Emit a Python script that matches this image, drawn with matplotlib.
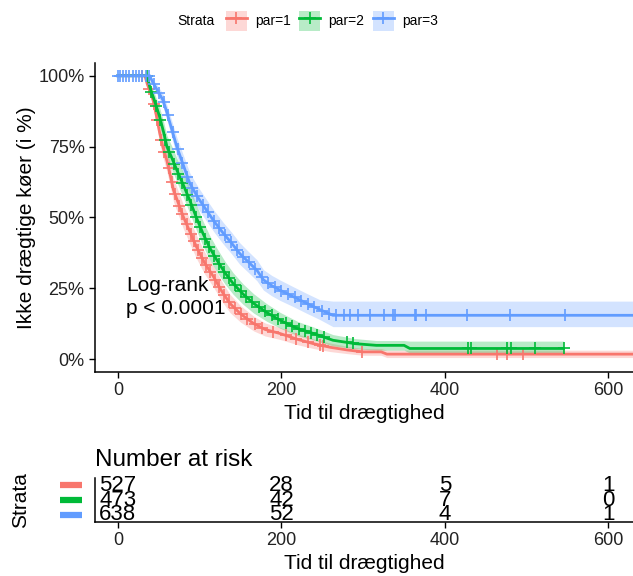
import numpy as np
import matplotlib
matplotlib.use("Agg")
import matplotlib.pyplot as plt
from matplotlib.lines import Line2D
from matplotlib.patches import Patch
import matplotlib.transforms as mtransforms

plt.rcParams['font.family'] = ['Liberation Sans', 'DejaVu Sans']

# === Kaplan-Meier estimates per stratum (time, survival, CI) ===
strata = ["par=1", "par=2", "par=3"]
colors = ["#F8766D", "#00BA38", "#619CFF"]

t_par1 = [0, 33, 36, 40, 43, 47, 51, 55, 60, 64, 68, 74, 80, 88, 96, 106, 117, 127, 137, 150,
          166, 180, 198, 220, 239, 260, 280, 300, 322, 329, 630]
s_par1 = [1.0, 1.0, 0.97, 0.94, 0.915, 0.86, 0.80, 0.75, 0.70, 0.65, 0.597, 0.55, 0.503, 0.45,
          0.397, 0.34, 0.291, 0.24, 0.197, 0.16, 0.126, 0.105, 0.091, 0.07, 0.055, 0.042, 0.033,
          0.026, 0.026, 0.018, 0.018]
lo_par1 = [1.0, 1.0, 0.955, 0.92, 0.89, 0.83, 0.765, 0.713, 0.661, 0.61, 0.556, 0.508, 0.461,
           0.408, 0.356, 0.301, 0.254, 0.205, 0.165, 0.131, 0.100, 0.082, 0.070, 0.051, 0.038,
           0.027, 0.020, 0.014, 0.014, 0.006, 0.006]
hi_par1 = [1.0, 1.0, 0.985, 0.96, 0.94, 0.89, 0.835, 0.787, 0.739, 0.69, 0.638, 0.592, 0.545,
           0.492, 0.438, 0.379, 0.328, 0.275, 0.229, 0.189, 0.152, 0.128, 0.112, 0.089, 0.072,
           0.057, 0.046, 0.038, 0.038, 0.032, 0.032]
cens_par1 = [30, 38, 44, 48, 53, 57, 62, 66, 70, 75, 79, 84, 89, 93, 98, 103, 108, 113, 119, 124,
             130, 136, 143, 150, 158, 168, 176, 190, 205, 218, 233, 247, 251, 298, 464, 476, 495]

t_par2 = [0, 36, 39, 45, 51, 56, 60, 66, 72, 80, 88, 96, 104, 112, 121, 131, 141, 153, 166, 182,
          198, 220, 239, 263, 290, 316, 350, 357, 545]
s_par2 = [1.0, 1.0, 0.96, 0.91, 0.856, 0.80, 0.75, 0.71, 0.668, 0.615, 0.56, 0.50, 0.444, 0.395,
          0.35, 0.305, 0.267, 0.23, 0.197, 0.165, 0.138, 0.108, 0.091, 0.067, 0.055, 0.049,
          0.049, 0.038, 0.038]
lo_par2 = [1.0, 1.0, 0.943, 0.884, 0.824, 0.764, 0.711, 0.669, 0.626, 0.571, 0.515, 0.455, 0.400,
           0.352, 0.308, 0.265, 0.229, 0.194, 0.163, 0.134, 0.110, 0.083, 0.068, 0.047, 0.037,
           0.032, 0.032, 0.022, 0.022]
hi_par2 = [1.0, 1.0, 0.977, 0.936, 0.888, 0.836, 0.789, 0.751, 0.710, 0.659, 0.605, 0.545, 0.488,
           0.438, 0.392, 0.345, 0.305, 0.266, 0.231, 0.196, 0.166, 0.133, 0.114, 0.087, 0.073,
           0.066, 0.066, 0.064, 0.064]
cens_par2 = [35, 41, 47, 52, 58, 63, 69, 74, 79, 85, 90, 96, 101, 107, 112, 118, 124, 130, 136,
             143, 150, 157, 164, 172, 180, 188, 196, 205, 213, 222, 229, 236, 244, 252, 280, 288,
             428, 432, 476, 481, 510, 545]

t_par3 = [0, 39, 42, 48, 55, 60, 66, 72, 80, 88, 98, 108, 118, 129, 139, 149, 160, 170, 178, 188,
          198, 215, 231, 247, 263, 630]
s_par3 = [1.0, 1.0, 0.98, 0.95, 0.915, 0.87, 0.81, 0.75, 0.685, 0.62, 0.57, 0.527, 0.485, 0.444,
          0.41, 0.373, 0.342, 0.314, 0.28, 0.26, 0.244, 0.22, 0.197, 0.175, 0.155, 0.155]
lo_par3 = [1.0, 1.0, 0.969, 0.933, 0.893, 0.844, 0.780, 0.717, 0.650, 0.583, 0.532, 0.489, 0.447,
           0.406, 0.372, 0.335, 0.305, 0.277, 0.244, 0.224, 0.208, 0.185, 0.162, 0.140, 0.115,
           0.115]
hi_par3 = [1.0, 1.0, 0.991, 0.967, 0.937, 0.896, 0.840, 0.783, 0.720, 0.657, 0.608, 0.565, 0.523,
           0.482, 0.448, 0.411, 0.379, 0.351, 0.316, 0.296, 0.280, 0.255, 0.232, 0.210, 0.205,
           0.205]
cens_par3 = [0, 3, 6, 10, 14, 18, 22, 26, 30, 34, 38, 44, 50, 56, 61, 67, 73, 79, 85, 91, 97,
             104, 110, 117, 124, 131, 138, 146, 153, 160, 168, 176, 184, 192, 200, 208, 216, 224,
             232, 240, 250, 258, 267, 276, 284, 294, 308, 325, 337, 339, 363, 365, 377, 427, 480,
             547]

# Number at risk table
risk_times = [0, 200, 400, 600]
risk_par1 = [527, 28, 5, 1]
risk_par2 = [473, 42, 7, 0]
risk_par3 = [638, 52, 4, 1]

curves = [
    (t_par1, s_par1, lo_par1, hi_par1, cens_par1),
    (t_par2, s_par2, lo_par2, hi_par2, cens_par2),
    (t_par3, s_par3, lo_par3, hi_par3, cens_par3),
]
risk_rows = [risk_par1, risk_par2, risk_par3]

W, H = 633, 576
fig = plt.figure(figsize=(W / 100, H / 100), dpi=100)

ax = fig.add_axes([95 / W, 1 - 372 / H, (W - 95) / W, (372 - 63) / H])
for (t, s, lo, hi, cens), col in zip(curves, colors):
    t = np.asarray(t, float)
    s = np.asarray(s, float)
    ax.fill_between(t, lo, hi, color=col, alpha=0.28, lw=0)
    ax.plot(t, s, color=col, lw=2.0)
    c = np.asarray(cens, float)
    ax.plot(c, np.interp(c, t, s), ls='none', marker='+', ms=8, mew=1.2, color=col)

ax.set_xlim(-28, 630)
ax.set_ylim(-0.045, 1.045)
ax.set_xticks(risk_times)
ax.set_yticks([0, 0.25, 0.5, 0.75, 1.0])
ax.set_yticklabels(["0%", "25%", "50%", "75%", "100%"])
ax.tick_params(labelsize=13, length=4, width=1, color='black', labelcolor='#222222')
for side in ['top', 'right']:
    ax.spines[side].set_visible(False)
for side in ['left', 'bottom']:
    ax.spines[side].set_linewidth(1.1)
ax.set_xlabel("Tid til drægtighed", fontsize=15, labelpad=3)
ax.set_ylabel("Ikke drægtige køer (i %)", fontsize=15, labelpad=2)
ax.text(10, 0.22, "Log-rank\np < 0.0001", fontsize=15, ha='left', va='center', linespacing=1.3)

# legend across the top
fig.text(196 / W, 1 - 21 / H, "Strata", fontsize=10, ha='center', va='center')
handles = [(Patch(facecolor=col, alpha=0.28, lw=0),
            Line2D([], [], color=col, lw=2, marker='+', ms=9, mew=1.2)) for col in colors]
fig.legend(handles, strata, loc='center left', bbox_to_anchor=(219 / W, 1 - 21 / H), ncol=3,
           frameon=False, fontsize=10, handlelength=1.5, handleheight=1.8, handletextpad=0.6,
           columnspacing=0.6, borderpad=0)

# number at risk table
rax = fig.add_axes([95 / W, 1 - 522 / H, (W - 95) / W, 44 / H], sharex=ax)
ypos = [3, 2, 1]
for row, y in zip(risk_rows, ypos):
    for t, n in zip(risk_times, row):
        rax.text(t, y, str(n), fontsize=16, ha='center', va='center',
                 family=['Liberation Sans Narrow', 'Liberation Sans'])
rax.set_ylim(0.53, 3.47)
rax.set_yticks([])
rax.tick_params(axis='x', labelsize=13, length=4, width=1, labelcolor='#222222')
for side in ['top', 'right']:
    rax.spines[side].set_visible(False)
for side in ['left', 'bottom']:
    rax.spines[side].set_linewidth(1.1)
rax.set_xlabel("Tid til drægtighed", fontsize=15, labelpad=3)
rax.set_ylabel("Strata", fontsize=15, labelpad=47)
rax.set_title("Number at risk", fontsize=17.5, loc='left', pad=9)
trans = mtransforms.blended_transform_factory(rax.transAxes, rax.transData)
for col, y in zip(colors, ypos):
    rax.plot([-0.065, -0.024], [y, y], color=col, lw=4.5, solid_capstyle='butt',
             transform=trans, clip_on=False)

fig.savefig("out.png", dpi=100)
